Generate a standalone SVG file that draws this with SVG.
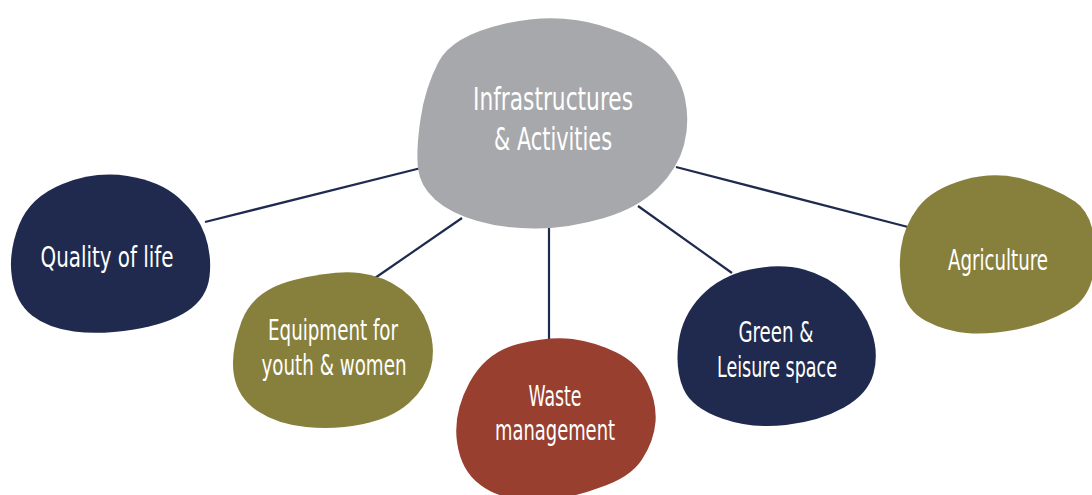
<svg xmlns="http://www.w3.org/2000/svg" width="1092" height="495" viewBox="0 0 1092 495">
<style>
.lbl{font-family:"Liberation Sans Narrow","DejaVu Sans Condensed","Liberation Sans",sans-serif;font-stretch:condensed;fill:#ffffff;text-anchor:middle;}
.s{font-size:28px;}
.c{font-size:32px;}
.conn line{stroke:#1f2a4e;stroke-width:2.2;}
.navy{fill:#1f2a4e;}
.olive{fill:#87803c;}
.red{fill:#983f2f;}
.gray{fill:#a7a8ab;}
</style>
<rect width="1092" height="495" fill="#ffffff"/>
<g id="connectors" class="conn">
<line x1="205" y1="222" x2="425" y2="167"/>
<line x1="375" y1="278" x2="462" y2="218"/>
<line x1="549" y1="225" x2="549" y2="340"/>
<line x1="638" y1="206" x2="732" y2="273"/>
<line x1="676" y1="167" x2="908" y2="227"/>
</g>
<g id="node-center">
<path class="gray" d="M503.5,24 Q555,12 599,25 Q643,38 661.5,56.5 Q680,75 685,98.5 Q690,122 684,145 Q678,168 658,188 Q638,208 604,218 Q570,228 537.5,228.5 Q505,229 477.5,221 Q450,213 435,199.5 Q420,186 418,168 Q416,150 420.5,119 Q425,88 438.5,62 Q452,36 503.5,24 Z"/>
<text class="lbl c" x="553" y="110" textLength="160" lengthAdjust="spacingAndGlyphs">Infrastructures</text>
<text class="lbl c" x="553" y="150" textLength="118" lengthAdjust="spacingAndGlyphs">&amp; Activities</text>
</g>
<g id="node-quality">
<path class="navy" d="M62.5,184 Q95,171 127.5,176 Q160,181 179,198 Q198,215 205,235 Q212,255 209.5,276.5 Q207,298 187.5,311 Q168,324 134,329.5 Q100,335 74,331.5 Q48,328 32,315.5 Q16,303 12,278 Q8,253 19,225 Q30,197 62.5,184 Z"/>
<text class="lbl s" x="107" y="267" textLength="133" lengthAdjust="spacingAndGlyphs">Quality of life</text>
</g>
<g id="node-equipment">
<path class="olive" d="M294,280 Q335,270 359.5,273 Q384,276 402,289.5 Q420,303 428,325 Q436,347 431,367.5 Q426,388 409,403 Q392,418 363.5,424 Q335,430 306,427 Q277,424 257.5,411 Q238,398 234,375.5 Q230,353 241.5,321.5 Q253,290 294,280 Z"/>
<text class="lbl s" x="333" y="340" textLength="130" lengthAdjust="spacingAndGlyphs">Equipment for</text>
<text class="lbl s" x="334" y="375" textLength="145" lengthAdjust="spacingAndGlyphs">youth &amp; women</text>
</g>
<g id="node-waste">
<path class="red" d="M518,344 Q550,336 572.5,339 Q595,342 616.5,352.5 Q638,363 647.5,383 Q657,403 655.5,422 Q654,441 642,459.5 Q630,478 598.5,488 Q567,500 533.5,500 Q500,500 480.5,485 Q461,471 457,442 Q453,413 469.5,382.5 Q486,352 518,344 Z"/>
<text class="lbl s" x="555" y="406" textLength="53" lengthAdjust="spacingAndGlyphs">Waste</text>
<text class="lbl s" x="555" y="440" textLength="120" lengthAdjust="spacingAndGlyphs">management</text>
</g>
<g id="node-green">
<path class="navy" d="M750,269.5 Q780,263 804,269.5 Q828,276 846,293 Q864,310 871.5,331.5 Q879,353 873.5,373.5 Q868,394 844,407.5 Q820,421 786,425 Q752,429 722,418.5 Q692,408 683.5,389 Q675,370 678.5,343 Q682,316 701,296 Q720,276 750,269.5 Z"/>
<text class="lbl s" x="776" y="342" textLength="75" lengthAdjust="spacingAndGlyphs">Green &amp;</text>
<text class="lbl s" x="777" y="377" textLength="120" lengthAdjust="spacingAndGlyphs">Leisure space</text>
</g>
<g id="node-agriculture">
<path class="olive" d="M963.5,180 Q995,171 1025,179.5 Q1055,188 1075,201.5 Q1095,215 1095,255 Q1095,295 1070,309.5 Q1045,324 1016.5,329.5 Q988,335 966.5,333 Q945,331 926,321 Q907,311 902.5,290.5 Q898,270 901,248 Q904,226 918,207.5 Q932,189 963.5,180 Z"/>
<text class="lbl s" x="998" y="270" textLength="100" lengthAdjust="spacingAndGlyphs">Agriculture</text>
</g>
</svg>
